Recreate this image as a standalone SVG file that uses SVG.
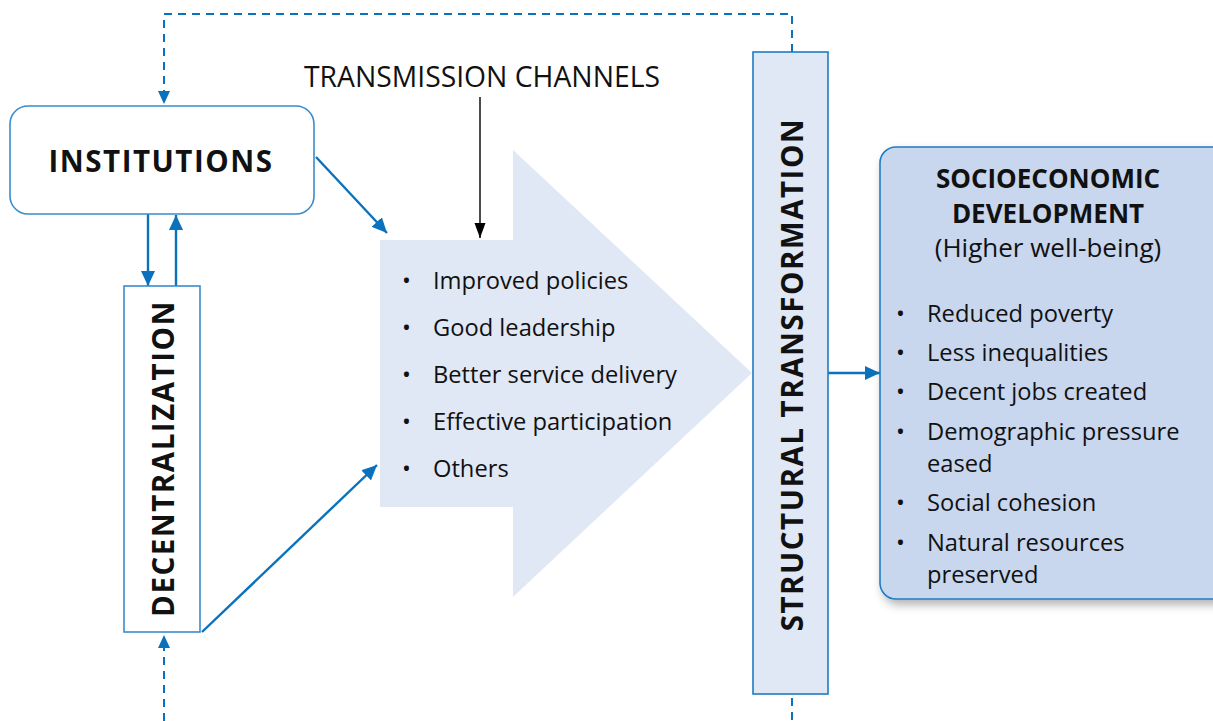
<svg xmlns="http://www.w3.org/2000/svg" width="1213" height="721" viewBox="0 0 1213 721">
<style>
text{font-family:"Open Sans","Noto Sans","Liberation Sans",sans-serif;fill:#111}
.b{font-weight:700}
.big{font-size:29.5px;font-weight:700;letter-spacing:1.5px}
.li{font-size:23.7px}
.box{fill:#fff;stroke:#3a8ccc;stroke-width:1.6}
.con{fill:none;stroke:#0a72bd;stroke-width:2.4}
.dash{fill:none;stroke:#0a72bd;stroke-width:2;stroke-dasharray:8 6}
</style>
<defs>
<marker id="ab" markerUnits="userSpaceOnUse" markerWidth="16" markerHeight="14" refX="15" refY="7" orient="auto"><path d="M0,0 L15,7 L0,14 Z" fill="#0a72bd"/></marker>
<marker id="ak" markerUnits="userSpaceOnUse" markerWidth="16" markerHeight="12" refX="15" refY="5.5" orient="auto"><path d="M0,0 L15,5.5 L0,11 Z" fill="#000"/></marker>
<filter id="sh" x="-10%" y="-10%" width="130%" height="130%"><feDropShadow dx="3" dy="5" stdDeviation="5" flood-color="#000" flood-opacity="0.3"/></filter>
</defs>

<g id="connectors">
<path class="dash" d="M792,52 V14 H164 V92"/>
<path d="M164,104 l-6,-13 h12 z" fill="#0a72bd"/>
<path class="dash" d="M792,698 V721"/>
<path class="dash" d="M164,721 V646"/>
<path d="M164,635 l-6,13 h12 z" fill="#0a72bd"/>
<line class="con" x1="148" y1="214" x2="148" y2="286" marker-end="url(#ab)"/>
<line class="con" x1="176" y1="286" x2="176" y2="215" marker-end="url(#ab)"/>
<line class="con" x1="316" y1="157" x2="387" y2="233" marker-end="url(#ab)"/>
<line class="con" x1="202" y1="632" x2="377" y2="465" marker-end="url(#ab)"/>
<line class="con" x1="828" y1="373" x2="880" y2="373" marker-end="url(#ab)"/>
<line x1="480" y1="97" x2="480" y2="238" stroke="#000" stroke-width="1.4" marker-end="url(#ak)"/>
</g>

<g id="channels">
<polygon points="380,240 513,240 513,150 752,373 513,597 513,507 380,507" fill="#e0e7f5"/>
<text x="482" y="87" text-anchor="middle" style="font-size:28.3px">TRANSMISSION CHANNELS</text>
<g class="li">
<text x="402" y="289">•</text><text x="433" y="289">Improved policies</text>
<text x="402" y="336">•</text><text x="433" y="336">Good leadership</text>
<text x="402" y="383">•</text><text x="433" y="383">Better service delivery</text>
<text x="402" y="430">•</text><text x="433" y="430">Effective participation</text>
<text x="402" y="477">•</text><text x="433" y="477">Others</text>
</g>
</g>

<g id="institutions">
<rect class="box" x="10" y="106" width="304" height="108" rx="18"/>
<text class="big" x="161" y="172" text-anchor="middle">INSTITUTIONS</text>
</g>

<g id="decentralization">
<rect class="box" x="124" y="286" width="76" height="346"/>
<text class="big" transform="translate(174,458.5) rotate(-90)" text-anchor="middle">DECENTRALIZATION</text>
</g>

<g id="structural">
<rect x="753" y="52" width="75" height="642" fill="#e0e7f5" stroke="#1f7cc4" stroke-width="1.6"/>
<text class="big" transform="translate(803,374.5) rotate(-90)" text-anchor="middle">STRUCTURAL TRANSFORMATION</text>
</g>

<g id="socioeconomic">
<rect x="880" y="147" width="350" height="452" rx="16" fill="#c8d6ee" stroke="#1f7cc4" stroke-width="1.6" filter="url(#sh)"/>
<text class="b" x="1048" y="188" text-anchor="middle" style="font-size:26px">SOCIOECONOMIC</text>
<text class="b" x="1048" y="223" text-anchor="middle" style="font-size:26px">DEVELOPMENT</text>
<text x="1048" y="257" text-anchor="middle" style="font-size:26px">(Higher well-being)</text>
<g class="li">
<text x="896" y="322">•</text><text x="927" y="322">Reduced poverty</text>
<text x="896" y="361">•</text><text x="927" y="361">Less inequalities</text>
<text x="896" y="400">•</text><text x="927" y="400">Decent jobs created</text>
<text x="896" y="440">•</text><text x="927" y="440">Demographic pressure</text>
<text x="927" y="472">eased</text>
<text x="896" y="511">•</text><text x="927" y="511">Social cohesion</text>
<text x="896" y="551">•</text><text x="927" y="551">Natural resources</text>
<text x="927" y="583">preserved</text>
</g>
</g>
</svg>
